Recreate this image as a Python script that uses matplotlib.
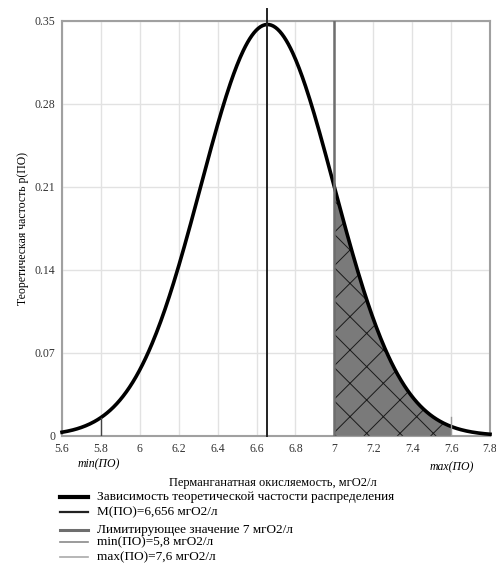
import matplotlib.pyplot as plt
import numpy as np
from matplotlib.lines import Line2D

plt.rcParams['font.family'] = ['Liberation Serif', 'DejaVu Serif']
plt.rcParams['hatch.linewidth'] = 0.7

# distribution parameters
mean_po = 6.656
sigma_po = 0.343
peak_p = 0.347
min_po = 5.8
max_po = 7.6
limit_po = 7.0

x_ticks = [5.6, 5.8, 6.0, 6.2, 6.4, 6.6, 6.8, 7.0, 7.2, 7.4, 7.6, 7.8]
x_labels = ['5.6', '5.8', '6', '6.2', '6.4', '6.6', '6.8', '7', '7.2', '7.4', '7.6', '7.8']
y_ticks = [0, 0.07, 0.14, 0.21, 0.28, 0.35]
y_labels = ['0', '0.07', '0.14', '0.21', '0.28', '0.35']

legend_labels = [
    'Зависимость теоретической частости распределения',
    'M(ПО)=6,656 мгО2/л',
    'Лимитирующее значение 7 мгО2/л',
    'min(ПО)=5,8 мгО2/л',
    'max(ПО)=7,6 мгО2/л',
]


def p_of(x):
    return peak_p * np.exp(-(x - mean_po) ** 2 / (2 * sigma_po ** 2))


def main():
    fig = plt.figure(figsize=(4.96, 5.66), dpi=100)
    ax = fig.add_axes([0.125, 0.23, 0.863, 0.733])

    xs = np.linspace(5.6, 7.8, 400)
    ax.plot(xs, p_of(xs), color='black', lw=2.6, zorder=5, clip_on=False)

    # shaded exceedance area
    xf = np.linspace(limit_po, max_po, 200)
    ax.fill_between(xf, 0, p_of(xf), facecolor='#7a7a7a', edgecolor='#1a1a1a',
                    hatch='x', lw=0, zorder=3)

    # vertical marker lines
    ax.plot([mean_po, mean_po], [0, 0.36], color='#222222', lw=1.4, zorder=6, clip_on=False)
    ax.plot([limit_po, limit_po], [0, 0.35], color='#6e6e6e', lw=1.8, zorder=6)
    ax.plot([min_po, min_po], [0, p_of(min_po)], color='#444444', lw=1.0, zorder=6)
    ax.plot([max_po, max_po], [0, p_of(max_po) + 0.008], color='#999999', lw=1.0, zorder=6)

    ax.set_xlim(5.6, 7.8)
    ax.set_ylim(0, 0.35)
    ax.set_xticks(x_ticks)
    ax.set_xticklabels(x_labels)
    ax.set_yticks(y_ticks)
    ax.set_yticklabels(y_labels)
    ax.tick_params(length=0, labelsize=8.5, colors='#333333', pad=5)
    ax.grid(True, color='#e2e2e2', lw=1.0)
    ax.set_axisbelow(True)
    for s in ax.spines.values():
        s.set_color('#a0a0a0')
        s.set_linewidth(1.5)

    ax.set_ylabel('Теоретическая частость p(ПО)', fontsize=8.5, labelpad=4)
    fig.text(0.55, 0.147, 'Перманганатная окисляемость, мгО2/л', fontsize=9, ha='center', va='center')
    fig.text(0.2, 0.18, 'min(ПО)', fontsize=8.5, style='italic', ha='center', va='center')
    fig.text(0.91, 0.175, 'max(ПО)', fontsize=8.5, style='italic', ha='center', va='center')

    # legend drawn by hand to match the uneven row spacing
    rows_y = [497, 512, 530, 542, 557]
    styles = [('black', 3.0), ('#222222', 1.6), ('#6e6e6e', 2.2), ('#8a8a8a', 1.2), ('#aaaaaa', 1.2)]
    for label, y, (c, w) in zip(legend_labels, rows_y, styles):
        fy = 1 - y / 566
        fig.add_artist(Line2D([60 / 496, 88 / 496], [fy, fy], color=c, lw=w))
        fig.text(97 / 496, fy, label, fontsize=9.5, ha='left', va='center')

    fig.savefig('out.png', dpi=100)


if __name__ == '__main__':
    main()
